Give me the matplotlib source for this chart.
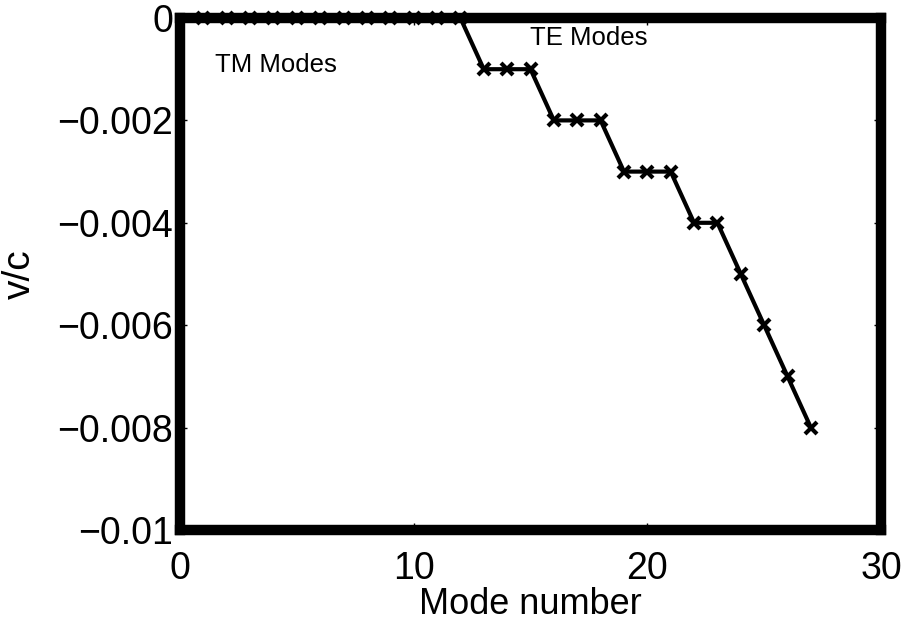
import numpy as np
import matplotlib
matplotlib.use("Agg")
import matplotlib.pyplot as plt

# mode number vs v/c
modes = list(range(1, 28))
vc = [0.0] * 12 + [-0.001] * 3 + [-0.002] * 3 + [-0.003] * 3 + [-0.004] * 2 + \
     [-0.005, -0.006, -0.007, -0.008]

xticks = [0, 10, 20, 30]
yticks = [-0.01, -0.008, -0.006, -0.004, -0.002, 0]
ytick_labels = ['\u22120.01', '\u22120.008', '\u22120.006', '\u22120.004', '\u22120.002', '0']

plt.rcParams['font.family'] = ['Liberation Sans', 'DejaVu Sans']

fig = plt.figure(figsize=(9.09, 6.21), dpi=100)
ax = fig.add_axes([180 / 909, 1 - 530 / 621, 701 / 909, 512 / 621])

ax.plot(modes, vc, color='black', linewidth=3, marker='x', markersize=9,
        markeredgewidth=3, clip_on=False, zorder=3)

ax.set_xlim(0, 30)
ax.set_ylim(-0.01, 0)
ax.set_xticks(xticks)
ax.set_yticks(yticks)
ax.set_yticklabels(ytick_labels)
ax.tick_params(direction='in', length=5, width=1, labelsize=27,
               top=True, right=True)
ax.tick_params(axis='x', pad=15)
ax.tick_params(axis='y', pad=5)

for s in ax.spines.values():
    s.set_linewidth(7.5)
    s.set_zorder(4)

ax.text(1.5, -0.00092, 'TM Modes', fontsize=18.5, va='center', ha='left')
ax.text(15.0, -0.00039, 'TE Modes', fontsize=18.5, va='center', ha='left')

ax.set_xlabel('Mode number', fontsize=26, labelpad=0)
ax.set_ylabel('v/c', fontsize=28, labelpad=14)

fig.savefig('out.png', dpi=100)
